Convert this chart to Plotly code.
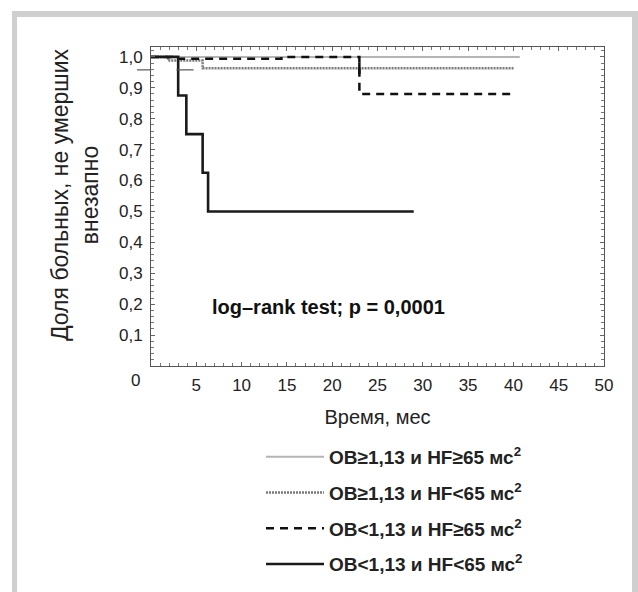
import plotly.graph_objects as go

# Kaplan-Meier survival steps (time in months, share of patients alive)
t_hi_hi = [0, 40.7]
s_hi_hi = [1.0, 1.0]

t_hi_lo = [0, 1.9, 5.7, 40.1]
s_hi_lo = [1.0, 0.988, 0.963, 0.963]

t_lo_hi = [0, 2.3, 14.4, 23.0, 40.1]
s_lo_hi = [1.0, 0.994, 1.0, 0.88, 0.88]

t_lo_lo = [0, 3.0, 3.9, 5.7, 6.3, 29.0]
s_lo_lo = [1.0, 0.875, 0.75, 0.625, 0.5, 0.5]

# censoring tick on the OB>=1,13 / HF<65 curve
t_cens = [23.0]
s_cens = [0.963]

# short reference mark near the top left
t_mark = [2.8, 4.7]
s_mark = [0.958, 0.958]

names = [
    "OB≥1,13 и HF≥65 мс<sup>2</sup>",
    "OB≥1,13 и HF<65 мс<sup>2</sup>",
    "OB<1,13 и HF≥65 мс<sup>2</sup>",
    "OB<1,13 и HF<65 мс<sup>2</sup>",
]

x_ticks = [5, 10, 15, 20, 25, 30, 35, 40, 45, 50]
y_ticks = [0.1, 0.2, 0.3, 0.4, 0.5, 0.6, 0.7, 0.8, 0.9, 1.0]

FONT = "Liberation Sans, Arial, sans-serif"
W, H = 638, 592
L, R, T, B = 151, 34, 47, 226
pw, ph = W - L - R, H - T - B


def px_x(p):
    return (p - L) / pw


def px_y(p):
    return (H - B - p) / ph


fig = go.Figure()

styles = [
    dict(color="#b5b5b5", width=2),
    dict(color="#7a7a7a", width=2.5, dash="2px,1px"),
    dict(color="#111111", width=2.5, dash="8px,6px"),
    dict(color="#1a1a1a", width=2.6),
]
series = [(t_hi_hi, s_hi_hi), (t_hi_lo, s_hi_lo), (t_lo_hi, s_lo_hi), (t_lo_lo, s_lo_lo)]

for i, ((tx, sy), nm, st) in enumerate(zip(series, names, styles)):
    fig.add_trace(go.Scatter(
        x=tx, y=sy, mode="lines", name=nm, line=st, line_shape="hv",
        legendgroup=f"g{i}", hoverinfo="skip",
    ))

fig.add_trace(go.Scatter(
    x=t_mark, y=s_mark, mode="lines", showlegend=False,
    line=dict(color="#555555", width=1.2), hoverinfo="skip",
))
fig.add_trace(go.Scatter(
    x=t_cens, y=s_cens, mode="markers", showlegend=False,
    marker=dict(symbol="line-ns-open", size=8, color="#111111",
                line=dict(color="#111111", width=2.5)),
    hoverinfo="skip",
))

axis_common = dict(
    showgrid=False, zeroline=False, showline=True, linecolor="#555555", linewidth=1,
    mirror="allticks", ticks="inside", ticklen=4, tickcolor="#666666",
    tickfont=dict(family=FONT, size=17, color="#222222"),
)

fig.update_xaxes(
    range=[0, 50], tickvals=x_ticks, ticklabelstandoff=4,
    minor=dict(dtick=1, ticks="inside", ticklen=3, tickcolor="#777777"),
    title=dict(text="Время, мес", standoff=15,
               font=dict(family=FONT, size=20, color="#222222")),
    **axis_common,
)
fig.update_yaxes(
    range=[0, 1.032], tickvals=y_ticks, tickformat=".1f", ticklabelstandoff=4,
    minor=dict(dtick=0.02, ticks="inside", ticklen=3, tickcolor="#777777"),
    **axis_common,
)

annotations = [
    dict(text="Доля больных, не умерших<br>внезапно", textangle=-90,
         xref="paper", yref="paper", x=px_x(75), y=px_y(195),
         xanchor="center", yanchor="middle", showarrow=False,
         font=dict(family=FONT, size=23, color="#222222")),
    dict(text="0", xref="paper", yref="paper", x=px_x(135), y=px_y(380),
         xanchor="center", yanchor="middle", showarrow=False,
         font=dict(family=FONT, size=17, color="#222222")),
    dict(text="<b>log–rank test; p = 0,0001</b>", xref="x", yref="y", x=19.6, y=0.19,
         xanchor="center", yanchor="middle", showarrow=False,
         font=dict(family=FONT, size=20, color="#111111")),
]

frame = "#cfcfcf"
shapes = [
    dict(type="rect", xref="paper", yref="paper", x0=px_x(12), x1=px_x(17),
         y0=px_y(H), y1=px_y(11), fillcolor=frame, line_width=0, layer="above"),
    dict(type="rect", xref="paper", yref="paper", x0=px_x(12), x1=px_x(W),
         y0=px_y(17), y1=px_y(11), fillcolor=frame, line_width=0, layer="above"),
    dict(type="rect", xref="paper", yref="paper", x0=px_x(632), x1=px_x(W),
         y0=px_y(H), y1=px_y(11), fillcolor=frame, line_width=0, layer="above"),
    dict(type="line", xref="paper", yref="y", x0=px_x(137), x1=px_x(150),
         y0=0.958, y1=0.958, line=dict(color="#555555", width=1.2)),
]

fig.update_layout(
    width=W, height=H,
    margin=dict(l=L, r=R, t=T, b=B, autoexpand=False),
    paper_bgcolor="white", plot_bgcolor="white",
    separators=", ",
    annotations=annotations, shapes=shapes,
    legend=dict(
        x=px_x(261), y=px_y(438), xanchor="left", yanchor="top",
        itemwidth=58, tracegroupgap=8,
        font=dict(family=FONT, size=19, color="#222222", weight="bold"),
        bgcolor="rgba(0,0,0,0)",
    ),
)

fig.write_html("out.html")
